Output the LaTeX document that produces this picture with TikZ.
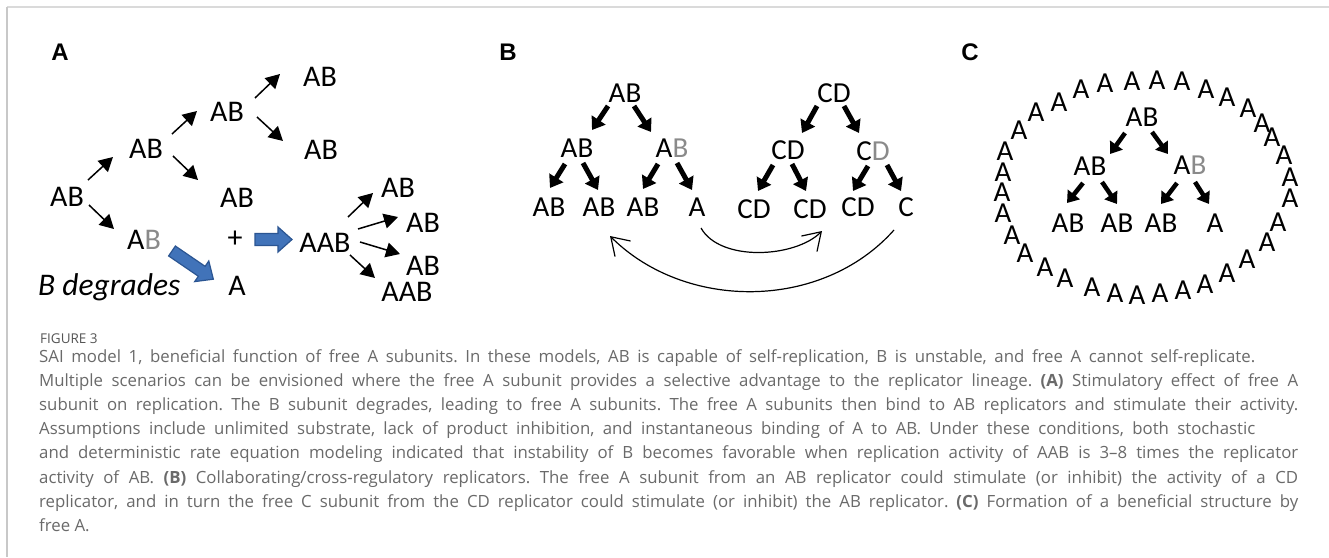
\documentclass[tikz,border=0pt]{standalone}
\usepackage{fontspec}
\setmainfont{Carlito}
\newfontfamily\capfont{Open Sans}
\newfontfamily\labfont{Liberation Sans}
\usetikzlibrary{arrows.meta,calc}
\definecolor{capgray}{HTML}{6A6A6A}
\definecolor{figgray}{HTML}{555555}
\definecolor{bgray}{HTML}{8A8A8A}
\definecolor{bluefill}{HTML}{4173B9}
\definecolor{blueedge}{HTML}{2B5592}
\definecolor{framegray}{HTML}{DADADA}
\definecolor{framegrayl}{HTML}{C8C8C8}
\newcommand\blkarrow[3]{%
  \begin{scope}[shift={#1},rotate=#2]
    \filldraw[blk] (0,-6)--({#3-14},-6)--({#3-14},-12.5)--(#3,0)--({#3-14},12.5)--({#3-14},6)--(0,6)--cycle;
  \end{scope}}
\frenchspacing
\begin{document}
\begin{tikzpicture}[x=1pt,y=-1pt,
  txt/.style={inner sep=0pt, font=\fontsize{30}{34}\selectfont},
  txtb/.style={inner sep=0pt, font=\fontsize{29}{34}\selectfont},
  eA/.style={inner sep=0pt, font=\fontsize{29}{32}\selectfont},
  lab/.style={inner sep=0pt, font=\labfont\bfseries\fontsize{24}{28}\selectfont},
  captxt/.style={inner sep=0pt, anchor=base west, text=capgray, font=\capfont\fontsize{16.8}{20}\selectfont},
  thinarr/.style={line width=1.5pt, -{Triangle[length=14pt,width=15pt]}},
  thickarr/.style={line width=5pt, -{Triangle[length=12pt,width=16pt]}},
  thickarrc/.style={line width=4.5pt, -{Triangle[length=11pt,width=15pt]}},
  curvearr/.style={line width=1.2pt, -{Straight Barb[length=17pt,width=22pt,line width=1.2pt]}},
  blk/.style={fill=bluefill, draw=blueedge, line width=1.2pt, line join=miter},
]
\useasboundingbox (0,0) rectangle (1329,557);
\fill[white] (0,0) rectangle (1329,557);
% frame
\draw[framegray, line width=2pt] (7,7) -- (1329,7);
\draw[framegrayl, line width=1.2pt] (7,7) -- (7,557);

% ---------- Panel A ----------
\node[lab] (labA) at (60,52) {A};
\node[txt] (rA) at (67,197) {AB};
\node[txt] (a1) at (146,149) {AB};
\node[txt] (a2) at (144,240) {A\textcolor{bgray}{B}};
\node[txt] (a3) at (227,112) {AB};
\node[txt] (a4) at (237,198) {AB};
\node[txt] (a5) at (320,77) {AB};
\node[txt] (a6) at (321,150) {AB};
\node[txt] (plus) at (235,239) {+};
\node[txt] (aab) at (325,243) {AAB};
\node[txt] (afree) at (237,286) {A};
\node[txt, anchor=base west, font=\itshape\fontsize{31.5}{34}\selectfont] (bdeg) at (38,295) {B degrades};
\node[txt] (o1) at (398,188) {AB};
\node[txt] (o2) at (423,223) {AB};
\node[txt] (o3) at (423,266) {AB};
\node[txt] (o4) at (407,292) {AAB};

\draw[thinarr] ($(rA)+(21,-17)$) -- ($(a1)+(-33,8)$);
\draw[thinarr] ($(rA)+(22,8)$) -- ($(a2)+(-30,-11)$);
\draw[thinarr] ($(a1)+(26,-15)$) -- ($(a3)+(-30,-1)$);
\draw[thinarr] ($(a1)+(27,7)$) -- ($(a4)+(-39,-18)$);
\draw[thinarr] ($(a3)+(28,-14)$) -- ($(a5)+(-40,-3)$);
\draw[thinarr] ($(a3)+(30,5)$) -- ($(a6)+(-38,-9)$);
\draw[thinarr] ($(aab)+(23,-26)$) -- ($(o1)+(-25,5)$);
\draw[thinarr] ($(aab)+(33,-14)$) -- ($(o2)+(-25,-6)$);
\draw[thinarr] ($(aab)+(35,-1)$) -- ($(o3)+(-23,-12)$);
\draw[thinarr] ($(aab)+(25,12)$) -- ($(o4)+(-32,-14)$);

\blkarrow{($(plus)+(20,0.5)$)}{0}{37}
\blkarrow{($(a2)+(28,11)$)}{-34.3}{50}

% ---------- Panel B ----------
\node[lab] (labB) at (508,52) {B};
\node[txtb] (tAB) at (625,93) {AB};
\node[txtb] (b1L) at (577,148) {AB};
\node[txtb] (b1R) at (672,148) {A\textcolor{bgray}{B}};
\node[txtb] (bAB1) at (549,207) {AB};
\node[txtb] (bAB2) at (599,207) {AB};
\node[txtb] (bAB3) at (643,207) {AB};
\node[txtb] (bA) at (697,207) {A};
\node[txtb] (tCD) at (834,93) {CD};
\node[txtb] (c1L) at (788,150) {CD};
\node[txtb] (c1R) at (873,151) {C\textcolor{bgray}{D}};
\node[txtb] (cCD1) at (754,209) {CD};
\node[txtb] (cCD2) at (810,209) {CD};
\node[txtb] (cCD3) at (858,207) {CD};
\node[txtb] (cC) at (906,207) {C};

\draw[thickarr] ($(tAB)+(-17,13)$) -- ($(b1L)+(15,-18)$);
\draw[thickarr] ($(tAB)+(9,13)$) -- ($(b1R)+(-21,-16)$);
\draw[thickarr] ($(b1L)+(-12,16)$) -- ($(bAB1)+(1,-19)$);
\draw[thickarr] ($(b1L)+(6,15)$) -- ($(bAB2)+(-1,-17)$);
\draw[thickarr] ($(b1R)+(-14,16)$) -- ($(bAB3)+(0,-18)$);
\draw[thickarr] ($(b1R)+(5,15)$) -- ($(bA)+(-5,-17)$);
\draw[thickarr] ($(tCD)+(-17,13)$) -- ($(c1L)+(14,-17)$);
\draw[thickarr] ($(tCD)+(10,13)$) -- ($(c1R)+(-14,-18)$);
\draw[thickarr] ($(c1L)+(-15,15)$) -- ($(cCD1)+(4,-18)$);
\draw[thickarr] ($(c1L)+(4,14)$) -- ($(cCD2)+(-4,-18)$);
\draw[thickarr] ($(c1R)+(-5,15)$) -- ($(cCD3)+(-5,-16)$);
\draw[thickarr] ($(c1R)+(14,14)$) -- ($(cC)+(-5,-16)$);

\draw[curvearr] ($(bA)+(4,21)$) .. controls (720,262) and (795,258) .. ($(cCD2)+(12,22)$);
\draw[curvearr] ($(cC)+(-12,23)$) .. controls (822,311) and (685,311) .. ($(bAB2)+(11,29)$);

% ---------- Panel C ----------
\node[lab] (labC) at (970,52) {C};
\node[txtb] (pT) at (1142,117) {AB};
\node[txtb] (pL) at (1090,166) {AB};
\node[txtb] (pR) at (1190,165) {A\textcolor{bgray}{B}};
\node[txtb] (q1) at (1068,223) {AB};
\node[txtb] (q2) at (1117,223) {AB};
\node[txtb] (q3) at (1161,223) {AB};
\node[txtb] (q4) at (1215,223) {A};

\draw[thickarrc] ($(pT)+(-17,16)$) -- ($(pL)+(20,-12)$);
\draw[thickarrc] ($(pT)+(10,15)$) -- ($(pR)+(-22,-11)$);
\draw[thickarrc] ($(pL)+(-7,17)$) -- ($(q1)+(-1,-20)$);
\draw[thickarrc] ($(pL)+(12,16)$) -- ($(q2)+(0,-19)$);
\draw[thickarrc] ($(pR)+(-13,18)$) -- ($(q3)+(0,-19)$);
\draw[thickarrc] ($(pR)+(5,17)$) -- ($(q4)+(-6,-19)$);

\foreach \px/\py [count=\i] in {1012/235,1003/213,1002/192,1003/172,1005/151,1019/130,1036/112,1059/102,1081/89,1105/83,1132/81,1157/80,1182/81,1206/89,1227/97,1248/108,1262/123,1272/137,1284/155,1290/177,1290/198,1278/222,1267/242,1247/259,1227/273,1205/284,1183/290,1160/293,1137/295,1115/293,1092/287,1065/278,1045/267,1025/253}
  \node[eA] (e\i) at (\px,\py) {A};

% ---------- Caption ----------
\node[inner sep=0pt, anchor=base west, text=figgray, font=\capfont\fontsize{13.5}{15}\selectfont] (fig) at (40,343) {FIGURE 3};
\node[captxt] (l1) at (39,362) {\makebox[1216pt][s]{SAI model 1, beneficial function of free A subunits. In these models, AB is capable of self-replication, B is unstable, and free A cannot self-replicate.}};
\node[captxt] (l2) at (39,386.2) {\makebox[1259pt][s]{Multiple scenarios can be envisioned where the free A subunit provides a selective advantage to the replicator lineage. \textbf{(A)} Stimulatory effect of free A}};
\node[captxt] (l3) at (39,410.4) {\makebox[1259pt][s]{subunit on replication. The B subunit degrades, leading to free A subunits. The free A subunits then bind to AB replicators and stimulate their activity.}};
\node[captxt] (l4) at (39,434.6) {\makebox[1216pt][s]{Assumptions include unlimited substrate, lack of product inhibition, and instantaneous binding of A to AB. Under these conditions, both stochastic}};
\node[captxt] (l5) at (39,458.8) {\makebox[1259pt][s]{and deterministic rate equation modeling indicated that instability of B becomes favorable when replication activity of AAB is 3–8 times the replicator}};
\node[captxt] (l6) at (39,483) {\makebox[1259pt][s]{activity of AB. \textbf{(B)} Collaborating/cross-regulatory replicators. The free A subunit from an AB replicator could stimulate (or inhibit) the activity of a CD}};
\node[captxt] (l7) at (39,507.2) {\makebox[1259pt][s]{replicator, and in turn the free C subunit from the CD replicator could stimulate (or inhibit) the AB replicator. \textbf{(C)} Formation of a beneficial structure by}};
\node[captxt] (l8) at (39,531.4) {free A.};
\end{tikzpicture}
\end{document}
